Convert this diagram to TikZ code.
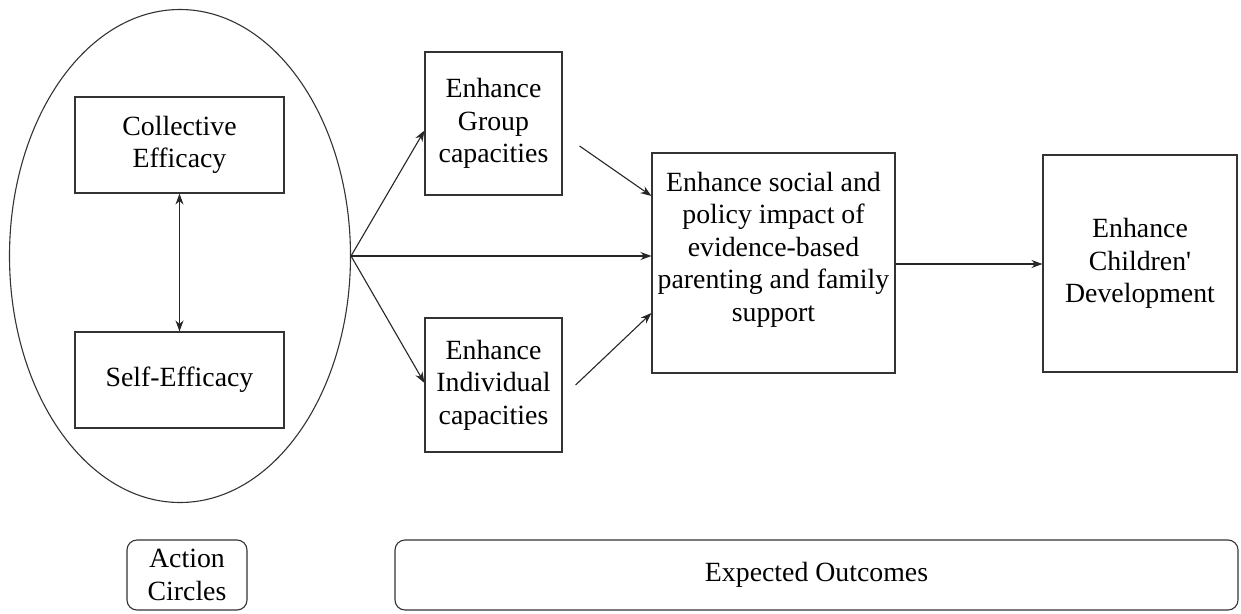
\documentclass[tikz,border=0pt]{standalone}
\usepackage{fontspec}
\setmainfont{Liberation Serif}[Ligatures=TeXOff]
\usetikzlibrary{arrows.meta,shapes.geometric}
\begin{document}
\begin{tikzpicture}[x=1pt,y=-1pt,
  line width=1.1pt,
  every node/.style={font=\fontsize{27.8}{32.5}\selectfont, align=center, inner sep=0pt},
  box/.style={draw=black!80, rectangle},
  rbox/.style={draw=black!80, rectangle, rounded corners=10pt},
  arr/.style={draw=black!85, -{Stealth[length=11pt,width=8pt]}},
  darr/.style={draw=black!85, {Stealth[length=11pt,width=8pt]}-{Stealth[length=11pt,width=8pt]}}
]
\useasboundingbox (0,0) rectangle (1241,613);
\node[draw=black!80, ellipse, minimum width=341pt, minimum height=493pt] (E) at (180,256) {};
\node[box, minimum width=209pt, minimum height=96pt] (coll) at (179.5,145) {Collective\\Efficacy};
\node[box, minimum width=209pt, minimum height=96pt] (self) at (179.5,380) {Self-Efficacy};
\node[box, minimum width=137pt, minimum height=143pt] (group) at (493.5,123.5) {Enhance\\Group\\capacities};
\node[box, minimum width=137pt, minimum height=134pt] (indiv) at (493.5,385) {Enhance\\Individual\\capacities};
\node[box, minimum width=243pt, minimum height=220pt] (central) at (773.5,263) {Enhance social and\\policy impact of\\evidence-based\\parenting and family\\support\\\mbox{}};
\node[box, minimum width=194pt, minimum height=217pt] (child) at (1140,263.5) {Enhance\\Children'\\Development};
\node[rbox, minimum width=120pt, minimum height=70pt] (act) at (187,575) {Action\\Circles};
\node[rbox, minimum width=843pt, minimum height=70pt] (exp) at (816.5,575) {Expected Outcomes};

\coordinate (B) at (E.east);
\draw[darr] (coll.south) -- (self.north);
\draw[arr] (B) -- ([yshift=-7pt]group.west);
\draw[arr] (B) -- ([yshift=2pt]indiv.west);
\draw[arr] (B) -- (B -| central.west);
\coordinate (g1) at ([xshift=17pt,yshift=-22.5pt]group.east);
\draw[arr] (g1) -- ([yshift=67pt]central.west);
\coordinate (i1) at ([xshift=13pt]indiv.east);
\draw[arr] (i1) -- ([yshift=-50pt]central.west);
\draw[arr] ([yshift=-1pt]central.east) -- ([yshift=-1pt]central.east -| child.west);
\end{tikzpicture}
\end{document}
